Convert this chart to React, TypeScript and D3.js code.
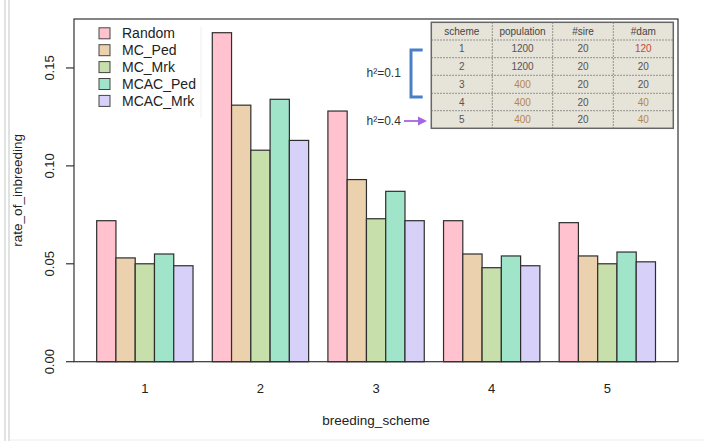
import React from 'react'
import * as d3 from 'd3'

const schemes = ['1', '2', '3', '4', '5']
const methods = ['Random', 'MC_Ped', 'MC_Mrk', 'MCAC_Ped', 'MCAC_Mrk']
const random = [0.072, 0.168, 0.128, 0.072, 0.071]
const mcPed = [0.053, 0.131, 0.093, 0.055, 0.054]
const mcMrk = [0.050, 0.108, 0.073, 0.048, 0.050]
const mcacPed = [0.055, 0.134, 0.087, 0.054, 0.056]
const mcacMrk = [0.049, 0.113, 0.072, 0.049, 0.051]
const yTicks = [0, 0.05, 0.1, 0.15]

const tableHeader = ['scheme', 'population', '#sire', '#dam']
const tableRows = [
  ['1', '1200', '20', '120'],
  ['2', '1200', '20', '20'],
  ['3', '400', '20', '20'],
  ['4', '400', '20', '40'],
  ['5', '400', '20', '40']
]

const series = [random, mcPed, mcMrk, mcacPed, mcacMrk]
const colors = ['#ffc2ce', '#ebd1ad', '#c7dfab', '#a0e4ca', '#d7d1fa']
const FONT = '"Liberation Sans", Arial, Helvetica, sans-serif'

// cell text colour: highlighted entries in the table
function cellColor (r: number, c: number) {
  const v = tableRows[r][c]
  if (c === 3 && v === '120') return '#c8473a'
  if ((c === 1 && v === '400') || (c === 3 && v === '40')) return '#b4874e'
  return '#555'
}

export default function App () {
  const width = 704
  const height = 441
  const plot = { left: 74, right: 678, top: 19, bottom: 361.7 }

  const yScale = d3.scaleLinear().domain([0, 0.175]).range([plot.bottom, plot.top])
  // R barplot style: one unit per bar, one unit gap before each group
  const nPer = methods.length + 1
  const xScale = d3.scaleLinear().domain([0, schemes.length * nPer]).range([77.4, 655.5])
  const bw = xScale(1) - xScale(0)

  // table layout
  const tX = [431.3, 492.3, 552.7, 613.3, 673.3]
  const tY = [22.3, 40, 57.7, 75.3, 93.3, 110.7, 128.3]

  return (
    <svg width={width} height={height} style={{ position: 'absolute', left: 0, top: 0, display: 'block', background: '#fff' }} fontFamily={FONT}>
      {/* frame of the screenshot */}
      <line x1={5} y1={0} x2={5} y2={441} stroke='#d6dad6' strokeWidth={1.5} />
      <line x1={9} y1={0} x2={9} y2={441} stroke='#d6dad6' strokeWidth={1.5} />
      <line x1={10} y1={440} x2={704} y2={440} stroke='#ececec' strokeWidth={1} />

      {/* bars */}
      {schemes.map((s, g) => (
        <g key={s}>
          {series.map((vals, i) => {
            const u = g * nPer + 1 + i
            return <rect key={i} x={xScale(u)} y={yScale(vals[g])} width={bw} height={yScale(0) - yScale(vals[g])}
              fill={colors[i]} stroke='#2e2e2e' strokeWidth={1.2} />
          })}
          <text x={xScale(g * nPer + 1 + methods.length / 2)} y={393} textAnchor='middle' fontSize={13} fill='#222'>{s}</text>
        </g>
      ))}

      {/* box */}
      <rect x={plot.left} y={plot.top} width={plot.right - plot.left} height={plot.bottom - plot.top} fill='none' stroke='#333' strokeWidth={1.2} />

      {/* y axis */}
      {yTicks.map(v => (
        <g key={v} transform={`translate(${plot.left},${yScale(v)})`}>
          <line x1={0} y1={0} x2={-8} y2={0} stroke='#333' strokeWidth={1.2} />
          <text transform='translate(-20,0) rotate(-90)' textAnchor='middle' fontSize={13} fill='#222'>{v.toFixed(2)}</text>
        </g>
      ))}
      <text transform={`translate(22,${(plot.top + plot.bottom) / 2}) rotate(-90)`} textAnchor='middle' fontSize={13.5} fill='#222'>rate_of_inbreeding</text>
      <text x={(plot.left + plot.right) / 2} y={425} textAnchor='middle' fontSize={13.5} fill='#222'>breeding_scheme</text>

      {/* legend */}
      <line x1={201} y1={27} x2={201} y2={118} stroke='#f0f0f0' strokeWidth={1} />
      {methods.map((m, i) => (
        <g key={m} transform={`translate(99,${33.3 + i * 16.9})`}>
          <rect x={0} y={-5.5} width={11} height={11} fill={colors[i]} stroke='#444' strokeWidth={1} />
          <text x={23} y={5} fontSize={14} fill='#222'>{m}</text>
        </g>
      ))}

      {/* parameter table */}
      <rect x={tX[0]} y={tY[0]} width={tX[4] - tX[0]} height={tY[6] - tY[0]} fill='#e6e3d8' stroke='#666' strokeWidth={1.5} />
      {tX.slice(1, 4).map((x, i) => (
        <line key={i} x1={x} y1={tY[0]} x2={x} y2={tY[6]} stroke='#777' strokeWidth={1} strokeDasharray='1.5,1.5' />
      ))}
      {tY.slice(1, 6).map((y, i) => (
        <line key={i} x1={tX[0]} y1={y} x2={tX[4]} y2={y} stroke='#777' strokeWidth={1} strokeDasharray='1.5,1.5' />
      ))}
      {tableHeader.map((h, c) => (
        <text key={h} x={(tX[c] + tX[c + 1]) / 2} y={(tY[0] + tY[1]) / 2 + 3.5} textAnchor='middle' fontSize={10} fill='#444'>{h}</text>
      ))}
      {tableRows.map((row, r) => row.map((v, c) => (
        <text key={`${r}-${c}`} x={(tX[c] + tX[c + 1]) / 2} y={(tY[r + 1] + tY[r + 2]) / 2 + 3.5} textAnchor='middle' fontSize={10} fill={cellColor(r, c)}>{v}</text>
      )))}

      {/* heritability annotations */}
      <text x={366.5} y={77} fontSize={12} fill='#333'>h²=0.1</text>
      <path d='M422.7,50 L411,50 L411,97 L422.7,97' fill='none' stroke='#4a80c6' strokeWidth={3} />
      <text x={366.5} y={125} fontSize={12} fill='#333'>h²=0.4</text>
      <line x1={404} y1={121} x2={419} y2={121} stroke='#a466e0' strokeWidth={1.8} />
      <path d='M427,121 L418,116.5 L418,125.5 Z' fill='#a466e0' />
    </svg>
  )
}
